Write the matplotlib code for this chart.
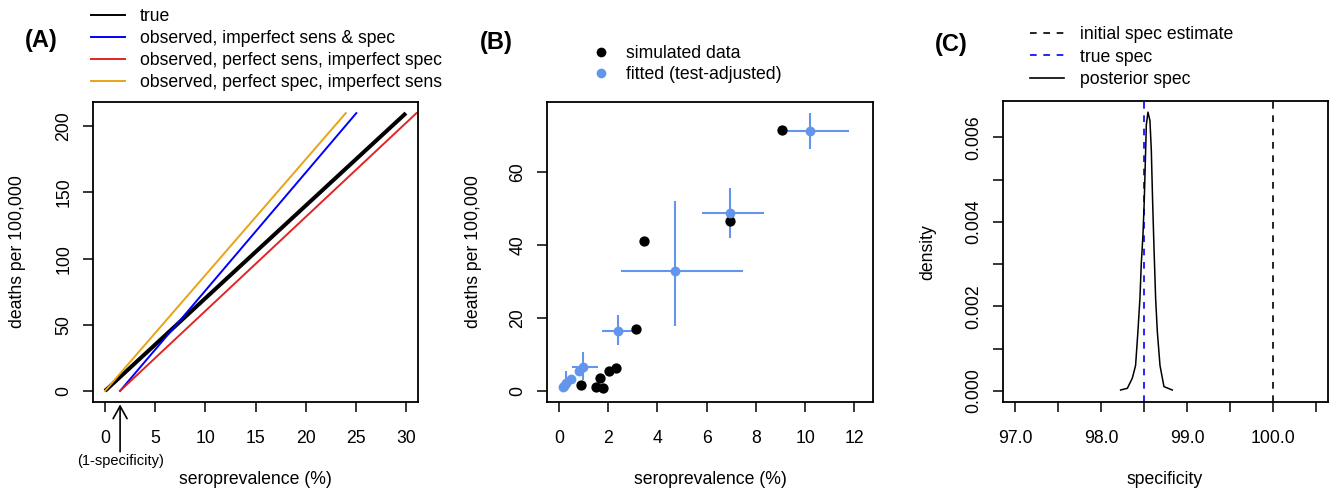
import numpy as np
import matplotlib
matplotlib.use("Agg")
import matplotlib.pyplot as plt
from matplotlib.lines import Line2D

plt.rcParams['font.family'] = ['Liberation Sans', 'DejaVu Sans']
plt.rcParams['font.size'] = 12.7

W, H = 1331, 493
FS = 12.7

# ---- panel A: seroprevalence vs deaths (line endpoints)
a_true_x = [0.0, 30.0]
a_true_y = [0.0, 210.0]
a_both_x = [1.5, 25.05]
a_both_y = [0.0, 210.0]
a_spec_x = [1.5, 31.05]
a_spec_y = [0.0, 210.0]
a_sens_x = [0.0, 24.0]
a_sens_y = [0.0, 210.0]
a_labels = ["true", "observed, imperfect sens & spec",
            "observed, perfect sens, imperfect spec",
            "observed, perfect spec, imperfect sens"]
spec_offset = 1.5

# ---- panel B: simulated data vs fitted
sim_x = [9.08, 3.46, 6.95, 3.12, 2.30, 2.04, 1.66, 1.52, 1.79, 0.88]
sim_y = [71.6, 41.3, 46.7, 17.0, 6.4, 5.7, 3.6, 1.2, 0.9, 1.8]
fit_x = [10.18, 6.95, 4.72, 2.39, 0.98, 0.80, 0.50, 0.30, 0.16, 0.22]
fit_y = [71.3, 48.8, 33.0, 16.5, 6.8, 5.6, 3.4, 2.3, 1.2, 1.6]
fit_xlo = [9.00, 5.80, 2.52, 1.75, 0.53, 0.70, 0.40, 0.22, 0.10, 0.15]
fit_xhi = [11.77, 8.35, 7.49, 3.08, 1.59, 0.90, 0.60, 0.40, 0.22, 0.30]
fit_ylo = [66.3, 42.1, 18.0, 12.6, 3.2, 4.8, 2.6, 1.2, 0.6, 0.9]
fit_yhi = [76.3, 55.6, 52.3, 20.9, 10.8, 6.4, 4.2, 5.5, 1.8, 2.3]

# ---- panel C: posterior of specificity
post_x = [98.228, 98.306, 98.364, 98.402, 98.429, 98.453, 98.468, 98.488,
          98.503, 98.519, 98.527, 98.546, 98.569, 98.585, 98.600, 98.616,
          98.635, 98.655, 98.686, 98.732, 98.829]
post_y = [0.00002, 0.00006, 0.0003, 0.0006, 0.0014, 0.0022, 0.0030, 0.0037,
          0.0045, 0.0057, 0.0063, 0.0066, 0.0064, 0.0057, 0.0045, 0.0034,
          0.0022, 0.0014, 0.0006, 0.0001, 0.00002]
init_spec = 100.0
true_spec = 98.5

c_orange = "#E8A317"
c_red = "#E02525"
c_blue = "#0000FF"
c_fit = "#6495ED"


def box(l, t, r, b):
    return [l / W, 1 - b / H, (r - l) / W, (b - t) / H]


def rstyle(ax):
    for s in ax.spines.values():
        s.set_linewidth(1.3)
    ax.tick_params(direction='out', length=7, width=1.1, labelsize=FS,
                   top=False, right=False)
    ax.tick_params(axis='x', pad=13)
    ax.tick_params(axis='y', pad=8)
    for lab in ax.get_yticklabels():
        lab.set_rotation(90)
        lab.set_va('center')


fig = plt.figure(figsize=(W / 100, H / 100), dpi=100)

# ================= A
axA = fig.add_axes(box(93, 102, 418, 402))
axA.plot(a_true_x, a_true_y, color='black', lw=2.9, solid_capstyle='butt')
axA.plot(a_both_x, a_both_y, color=c_blue, lw=1.4)
axA.plot(a_spec_x, a_spec_y, color=c_red, lw=1.4)
axA.plot(a_sens_x, a_sens_y, color=c_orange, lw=1.4)
axA.set_xlim(-1.2, 31.2)
axA.set_ylim(-8.4, 218.4)
axA.set_xticks(range(0, 31, 5))
axA.set_yticks(range(0, 201, 50))
rstyle(axA)
axA.annotate("(1-specificity)", xy=(spec_offset, -0.008),
             xytext=(spec_offset, -0.175),
             xycoords=axA.get_xaxis_transform(),
             textcoords=axA.get_xaxis_transform(),
             ha='center', va='top', fontsize=10.5, annotation_clip=False,
             arrowprops=dict(arrowstyle='->,head_length=0.9,head_width=0.5',
                             lw=1.2, color='black', shrinkA=0, shrinkB=0,
                             mutation_scale=10))
hA = [Line2D([], [], color='black', lw=1.4), Line2D([], [], color=c_blue, lw=1.4),
      Line2D([], [], color=c_red, lw=1.4), Line2D([], [], color=c_orange, lw=1.4)]
fig.legend(hA, a_labels, loc='upper left', bbox_to_anchor=(91 / W, 1 - 8 / H),
           frameon=False, fontsize=FS, handlelength=1.9, handletextpad=0.85,
           labelspacing=0.29, borderpad=0, borderaxespad=0)

# ================= B
axB = fig.add_axes(box(547, 102, 873, 402))
axB.errorbar(fit_x, fit_y,
             xerr=[np.subtract(fit_x, fit_xlo), np.subtract(fit_xhi, fit_x)],
             yerr=[np.subtract(fit_y, fit_ylo), np.subtract(fit_yhi, fit_y)],
             fmt='none', ecolor=c_fit, elinewidth=1.5, capsize=0, zorder=2)
axB.scatter(sim_x, sim_y, s=55, color='black', zorder=3, linewidths=0)
axB.scatter(fit_x, fit_y, s=50, color=c_fit, zorder=4, linewidths=0)
axB.set_xlim(-0.49, 12.76)
axB.set_ylim(-2.9, 79.3)
axB.set_xticks(range(0, 13, 2))
axB.set_yticks(range(0, 61, 20))
rstyle(axB)
hB = [Line2D([], [], ls='none', marker='o', ms=7, color='black', mec='none'),
      Line2D([], [], ls='none', marker='o', ms=7, color=c_fit, mec='none')]
fig.legend(hB, ["simulated data", "fitted (test-adjusted)"], loc='upper left',
           bbox_to_anchor=(592 / W, 1 - 45 / H), frameon=False, fontsize=FS,
           handlelength=1.0, handletextpad=0.9, labelspacing=0.23,
           borderpad=0, borderaxespad=0)

# ================= C
axC = fig.add_axes(box(1003, 101, 1328, 402))
axC.axvline(init_spec, color='black', ls=(0, (4, 4)), lw=1.2)
axC.axvline(true_spec, color=c_blue, ls=(0, (4, 4)), lw=1.2)
axC.plot(post_x, post_y, color='black', lw=1.1)
axC.set_xlim(96.86, 100.64)
axC.set_ylim(-0.000264, 0.006864)
axC.set_xticks(np.arange(97.0, 100.51, 0.5))
axC.set_xticklabels(["97.0", "", "98.0", "", "99.0", "", "100.0", ""])
axC.set_yticks(np.arange(0, 0.00601, 0.001))
axC.set_yticklabels(["0.000", "", "0.002", "", "0.004", "", "0.006"])
rstyle(axC)
hC = [Line2D([], [], color='black', ls=(0, (4, 4)), lw=1.2),
      Line2D([], [], color=c_blue, ls=(0, (4, 4)), lw=1.2),
      Line2D([], [], color='black', lw=1.2)]
fig.legend(hC, ["initial spec estimate", "true spec", "posterior spec"],
           loc='upper left', bbox_to_anchor=(1030 / W, 1 - 26 / H),
           frameon=False, fontsize=FS, handlelength=1.95, handletextpad=0.9,
           labelspacing=0.32, borderpad=0, borderaxespad=0)

# axis titles and panel letters
for cx in (255.5, 710, 1165):
    fig.text(cx / W, 1 - 479 / H, "specificity" if cx > 1000 else "seroprevalence (%)",
             ha='center', va='center', fontsize=FS)
for cx, lab in ((18, "deaths per 100,000"), (473, "deaths per 100,000"), (928, "density")):
    fig.text(cx / W, 1 - 252 / H, lab, rotation=90, ha='center', va='center', fontsize=FS)
for cx, cy, lab in ((41, 40, "(A)"), (496, 42, "(B)"), (951, 45, "(C)")):
    fig.text(cx / W, 1 - cy / H, lab, ha='center', va='center', fontsize=17,
             fontweight='bold')

fig.savefig("out.png", dpi=100)
